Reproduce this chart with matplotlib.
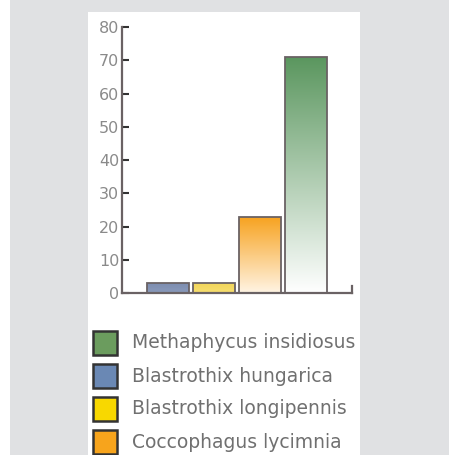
import numpy as np
import matplotlib.pyplot as plt
from matplotlib.colors import LinearSegmentedColormap
from matplotlib.patches import Rectangle

# data, left to right as drawn
species = ["Blastrothix hungarica", "Blastrothix longipennis",
           "Coccophagus lycimnia", "Methaphycus insidiosus"]
values = [3, 3, 23, 71]
top_colors = ["#7d8db0", "#f2d65a", "#f7a21e", "#5a965e"]
bottom_colors = ["#8a9abb", "#f7de70", "#fff4e4", "#ffffff"]

# legend order as in the picture
legend_names = ["Methaphycus insidiosus", "Blastrothix hungarica",
                "Blastrothix longipennis", "Coccophagus lycimnia"]
legend_colors = ["#6b9c5e", "#6a88b4", "#f8d800", "#f7a41c"]

yticks = list(range(0, 81, 10))

fig = plt.figure(figsize=(4.49, 4.55), dpi=100)
fig.patch.set_facecolor("#e0e1e3")

W, H = 449, 455
fig.patches.append(Rectangle((0, 0), 10 / W, 1, transform=fig.transFigure,
                             facecolor="white", edgecolor="none", zorder=-2))
fig.patches.append(Rectangle((88 / W, 0), (360 - 88) / W, 1 - 12 / H,
                             transform=fig.transFigure, facecolor="white",
                             edgecolor="none", zorder=-2))

ax = fig.add_axes([122 / W, 1 - 293 / H, (352 - 122) / W, (293 - 27) / H])
ax.set_facecolor("none")
ax.set_zorder(1)

x = np.arange(1, len(values) + 1)
bars = ax.bar(x, values, width=0.9, color="none", edgecolor="#6a6264",
              linewidth=1.3, zorder=3)

grad = np.linspace(0, 1, 256).reshape(-1, 1)
for b, c0, c1 in zip(bars, bottom_colors, top_colors):
    cmap = LinearSegmentedColormap.from_list("g", [c0, c1])
    im = ax.imshow(grad, cmap=cmap, aspect="auto", origin="lower",
                   extent=[b.get_x(), b.get_x() + b.get_width(), 0, b.get_height()],
                   zorder=2)
    im.set_clip_path(b)

ax.set_xlim(0, 5)
ax.set_ylim(0, 80)
ax.set_yticks(yticks)
ax.set_xticks([])
for s in ["top", "right"]:
    ax.spines[s].set_visible(False)
for s in ["left", "bottom"]:
    ax.spines[s].set_color("#6a6264")
    ax.spines[s].set_linewidth(1.6)
ax.tick_params(axis="y", direction="in", length=5, width=1.5, color="#333",
               pad=2, labelsize=11.5, labelcolor="#8a8a8a")
ax.plot([5, 5], [0, 2], color="#6a6264", lw=1.6, clip_on=False)

# legend drawn by hand under the axes
for i, (name, col) in enumerate(zip(legend_names, legend_colors)):
    yc = 343 + i * 33
    fig.patches.append(Rectangle((93 / W, 1 - (yc + 12) / H), 24 / W, 24 / H,
                                 transform=fig.transFigure, facecolor=col,
                                 edgecolor="#333", linewidth=1.8, zorder=2))
    fig.text(132 / W, 1 - yc / H, name, fontsize=13.5, color="#707070",
             va="center", ha="left")

fig.savefig("out.png", dpi=100, facecolor=fig.get_facecolor())
